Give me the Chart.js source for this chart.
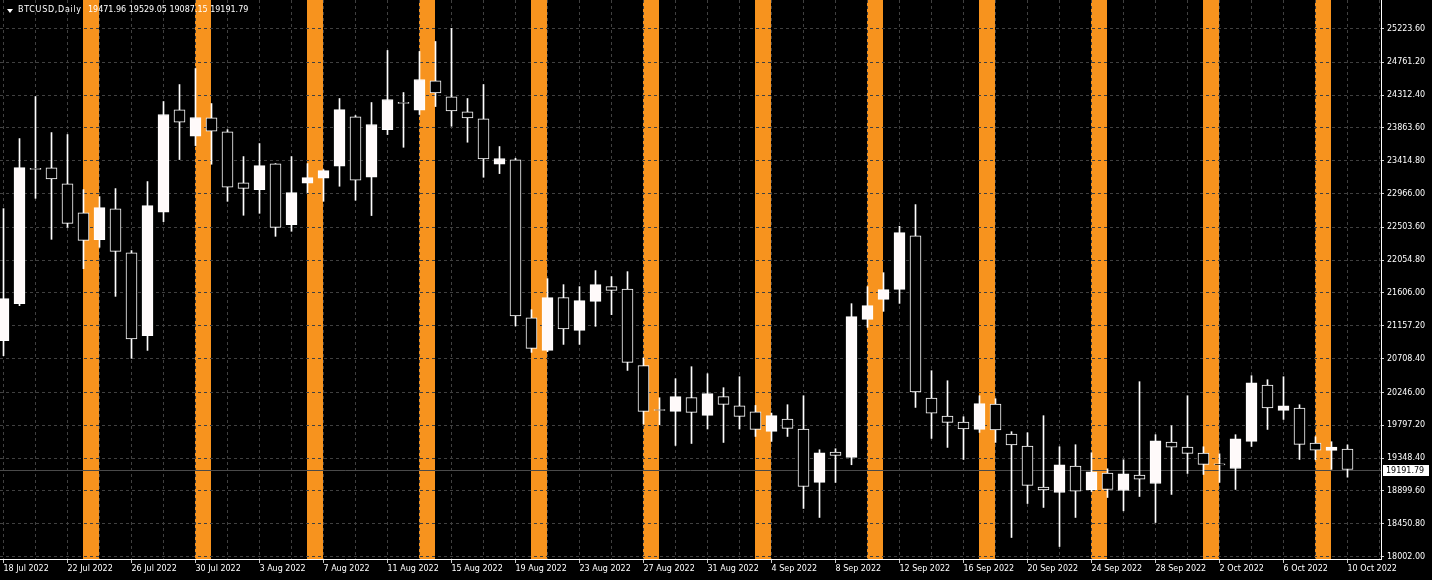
<!DOCTYPE html>
<html>
<head>
<meta charset="utf-8">
<script src="https://cdn.jsdelivr.net/npm/chart.js@4.4.1/dist/chart.umd.min.js"></script>
<style>
  html, body { margin: 0; padding: 0; background: #000; }
  #wrap { position: relative; width: 1432px; height: 580px; background: #000; }
  #chart { display: block; }
  .hdr { position: absolute; top: 5px; color: #fff; font: 8px "DejaVu Sans"; line-height: 10px; white-space: pre; }
  #tri { position: absolute; left: 7px; top: 9px; width: 0; height: 0;
         border-left: 3px solid transparent; border-right: 3px solid transparent; border-top: 4px solid #fff; }
</style>
</head>
<body>
<div id="wrap">
  <canvas id="chart" width="1432" height="580"></canvas>
  <div id="tri"></div>
  <div class="hdr" style="left:18px; letter-spacing:0.7px">BTCUSD,Daily</div>
  <div class="hdr" style="left:88px">19471.96 19529.05 19087.15 19191.79</div>
</div>
<script>
// daily BTCUSD candles, 18 Jul 2022 .. 10 Oct 2022 (one per day)
const opens = [20954, 21460, 23310, 23317, 23098, 22701, 22336, 22756, 22154, 21022,
  22710, 24111, 23750, 24002, 23810, 23112, 23020, 23372, 22541, 23107,
  23175, 23339, 24015, 23189, 23841, 24214, 24106, 24508, 24289, 24084,
  23988, 23367, 23427, 21265, 20821, 21542, 21095, 21492, 21693, 21661,
  20612, 20012, 19986, 20174, 19932, 20188, 20064, 19982, 19713, 19882,
  19746, 19015, 19431, 19357, 21245, 21519, 21656, 22387, 20170, 19923,
  19841, 19740, 20088, 19677, 19513, 18952, 18878, 19239, 18915, 19143,
  18905, 19116, 19001, 19568, 19499, 19417, 19268, 19206, 19576, 20348,
  20000, 20033, 19554, 19453, 19471.96];
const highs = [22760, 23718, 24293, 23800, 23773, 23020, 22925, 23034, 22186, 23130,
  24225, 24457, 24676, 24197, 23841, 23472, 23650, 23376, 23472, 23376,
  23294, 24266, 24033, 24211, 24923, 24348, 24909, 25046, 25224, 24266,
  24457, 23609, 23449, 21378, 21802, 21720, 21693, 21912, 21830, 21898,
  20717, 20174, 20434, 20598, 20502, 20311, 20461, 20068, 19964, 20078,
  20201, 19462, 19476, 21460, 21693, 21884, 22518, 22815, 20543, 20406,
  19914, 20201, 20160, 19709, 19695, 19928, 19503, 19531, 19421, 19202,
  19325, 20393, 19668, 19791, 20201, 19503, 19407, 19668, 20475, 20420,
  20461, 20078, 19640, 19572, 19529.05];
const lows = [20749, 21433, 22901, 22340, 22504, 21939, 22231, 21560, 20712, 20821,
  22582, 23431, 23622, 23367, 22860, 22669, 22696, 22381, 22450, 22979,
  22860, 23066, 22874, 22665, 23773, 23599, 24047, 24156, 23887, 23668,
  23189, 23239, 21155, 20794, 20803, 20903, 20903, 21150, 21310, 20547,
  19814, 19804, 19521, 19548, 19746, 19562, 19746, 19644, 19576, 19644,
  18659, 18536, 19015, 19257, 21136, 21355, 21464, 20041, 19617, 19494,
  19329, 19699, 19562, 18262, 18727, 18673, 18139, 18536, 18892, 18809,
  18627, 18823, 18467, 18851, 19138, 19124, 19015, 18919, 19507, 19740,
  19877, 19329, 19325, 19193, 19087.15];
const closes = [21529, 23321, 23297, 23167, 22559, 22326, 22774, 22176, 20977, 22801,
  24047, 23941, 24006, 23818, 23052, 23038, 23349, 22504, 22979, 23185,
  23280, 24115, 23148, 23910, 24252, 24200, 24526, 24344, 24097, 24002,
  23440, 23445, 21292, 20849, 21542, 21114, 21501, 21720, 21642, 20657,
  19986, 19999, 20188, 19973, 20229, 20082, 19918, 19740, 19928, 19754,
  18960, 19421, 19384, 21282, 21433, 21652, 22432, 20252, 19964, 19836,
  19746, 20092, 19732, 19527, 18974, 18911, 19257, 18897, 19161, 18919,
  19134, 19061, 19585, 19499, 19412, 19261, 19255, 19613, 20379, 20033,
  20064, 19535, 19458, 19499, 19191.79];

const tickLabels = ['18 Jul 2022', '22 Jul 2022', '26 Jul 2022', '30 Jul 2022', '3 Aug 2022',
  '7 Aug 2022', '11 Aug 2022', '15 Aug 2022', '19 Aug 2022', '23 Aug 2022', '27 Aug 2022',
  '31 Aug 2022', '4 Sep 2022', '8 Sep 2022', '12 Sep 2022', '16 Sep 2022', '20 Sep 2022',
  '24 Sep 2022', '28 Sep 2022', '2 Oct 2022', '6 Oct 2022', '10 Oct 2022'];
const priceTicks = [25223.60, 24761.20, 24312.40, 23863.60, 23414.80, 22966.00, 22503.60,
  22054.80, 21606.00, 21157.20, 20708.40, 20246.00, 19797.20, 19348.40, 18899.60,
  18450.80, 18002.00];
// day index of each Saturday (band runs Saturday -> Sunday)
const saturdays = [5, 12, 19, 26, 33, 40, 47, 54, 61, 68, 75, 82];

const bullColor = '#fffafa';
const bearColor = '#000000';
const bandColor = '#f7931e';
const gridColor = '#404040';

const bodies = opens.map((o, i) => ({ x: i, y: [o, closes[i]] }));
const wicks = lows.map((l, i) => ({ x: i, y: [l, highs[i]] }));
const bodyFill = opens.map((o, i) => closes[i] >= o ? bullColor : bearColor);
const lastClose = closes[closes.length - 1];

const weekendBands = {
  id: 'weekendBands',
  beforeDraw(chart) {
    const { ctx, chartArea, scales: { x } } = chart;
    ctx.save();
    ctx.fillStyle = bandColor;
    saturdays.forEach(d => {
      const x0 = Math.floor(x.getPixelForValue(d));
      const x1 = Math.floor(x.getPixelForValue(d + 1));
      ctx.fillRect(x0, chartArea.top, x1 - x0, chartArea.bottom - chartArea.top);
    });
    ctx.restore();
  }
};

const priceLine = {
  id: 'priceLine',
  beforeDatasetsDraw(chart) {
    const { ctx, chartArea, scales: { y } } = chart;
    const py = Math.round(y.getPixelForValue(lastClose)) + 0.5;
    ctx.save();
    ctx.strokeStyle = '#4a4a4a';
    ctx.lineWidth = 1;
    ctx.beginPath();
    ctx.moveTo(chartArea.left, py);
    ctx.lineTo(chartArea.right, py);
    ctx.stroke();
    ctx.restore();
  },
  afterDraw(chart) {
    const { ctx, chartArea, scales: { y } } = chart;
    const py = Math.round(y.getPixelForValue(lastClose));
    ctx.save();
    ctx.fillStyle = '#ffffff';
    ctx.fillRect(chartArea.right + 2, py - 5, 46, 11);
    ctx.fillStyle = '#000000';
    ctx.font = '8px "DejaVu Sans"';
    ctx.textBaseline = 'middle';
    ctx.fillText(lastClose.toFixed(2), chartArea.right + 5, py + 0.5);
    ctx.restore();
  }
};

Chart.defaults.font.family = '"DejaVu Sans"';
Chart.defaults.font.size = 8;
Chart.defaults.color = '#ffffff';

new Chart(document.getElementById('chart').getContext('2d'), {
  type: 'bar',
  data: {
    datasets: [{
      label: 'body',
      data: bodies,
      backgroundColor: bodyFill,
      borderColor: '#ffffff',
      borderWidth: 1,
      borderSkipped: false,
      barThickness: 11,
      minBarLength: 1,
      grouped: false,
      order: 0
    }, {
      label: 'wick',
      data: wicks,
      backgroundColor: '#ffffff',
      borderWidth: 0,
      barThickness: 1,
      grouped: false,
      order: 1
    }]
  },
  options: {
    responsive: false,
    animation: false,
    events: [],
    layout: { padding: 0 },
    plugins: { legend: { display: false }, tooltip: { enabled: false }, title: { display: false } },
    scales: {
      x: {
        type: 'linear',
        offset: false,
        min: -0.21875,
        max: 86.09375,
        afterBuildTicks: scale => {
          const t = [];
          for (let v = 0; v <= 86; v += 2) t.push({ value: v });
          scale.ticks = t;
        },
        afterFit: scale => {
          scale.height = 21;
          scale.paddingLeft = 0;
          scale.paddingRight = 0;
        },
        grid: {
          offset: false,
          color: gridColor,
          drawTicks: true,
          tickLength: 4,
          tickBorderDash: [],
          tickColor: c => (c.tick && c.tick.value % 4 === 0) ? '#c8c8c8' : 'rgba(0,0,0,0)'
        },
        border: { display: true, color: '#ffffff', dash: [3, 3] },
        ticks: {
          autoSkip: false,
          maxRotation: 0,
          minRotation: 0,
          align: 'start',
          padding: 1,
          color: '#ffffff',
          callback: v => v % 4 === 0 && v / 4 < tickLabels.length ? tickLabels[v / 4] : ''
        }
      },
      y: {
        type: 'linear',
        position: 'right',
        beginAtZero: false,
        min: 17967.9,
        max: 25613.3,
        afterBuildTicks: scale => { scale.ticks = priceTicks.map(v => ({ value: v })); },
        afterFit: scale => {
          scale.width = 51;
          scale.paddingTop = 0;
          scale.paddingBottom = 0;
        },
        grid: {
          color: gridColor,
          drawTicks: true,
          tickLength: 3,
          tickBorderDash: [],
          tickColor: '#c8c8c8'
        },
        border: { display: true, color: '#ffffff', dash: [3, 3] },
        ticks: {
          padding: 3,
          color: '#ffffff',
          callback: v => Number(v).toFixed(2)
        }
      }
    }
  },
  plugins: [weekendBands, priceLine]
});
</script>
</body>
</html>
